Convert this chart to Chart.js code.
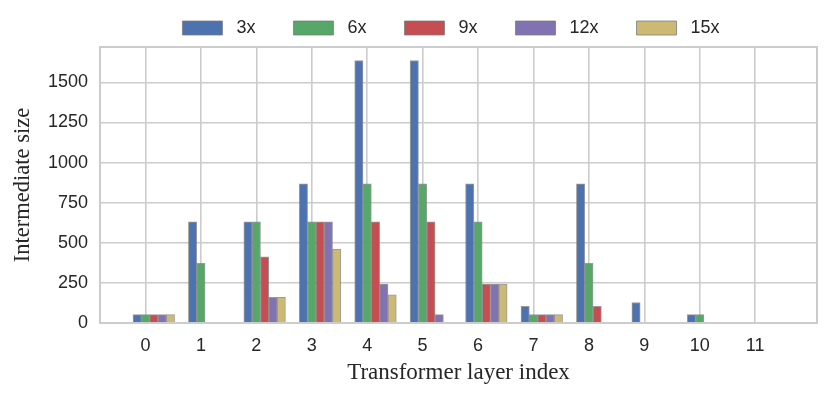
<!DOCTYPE html>
<html>
<head>
<meta charset="utf-8">
<script src="https://cdn.jsdelivr.net/npm/chart.js@4/dist/chart.umd.min.js"></script>
<style>
  html, body { margin: 0; padding: 0; background: #fff; }
  #wrap { width: 831px; height: 399px; }
</style>
</head>
<body>
<div id="wrap"><canvas id="layerChart"></canvas></div>
<script>
// layer index on x, one bar per expansion ratio
const layers = ["0", "1", "2", "3", "4", "5", "6", "7", "8", "9", "10", "11"];
const ratios = ["3x", "6x", "9x", "12x", "15x"];
const size3x  = [52, 630, 630, 868, 1636, 1636, 868, 104, 868, 128, 52, 0];
const size6x  = [52, 372, 630, 630, 868, 868, 630, 52, 372, 0, 52, 0];
const size9x  = [52, 0, 412, 630, 630, 630, 242, 52, 104, 0, 0, 0];
const size12x = [52, 0, 160, 630, 242, 52, 242, 52, 0, 0, 0, 0];
const size15x = [52, 0, 160, 460, 175, 0, 242, 52, 0, 0, 0, 0];
const yTicks = [0, 250, 500, 750, 1000, 1250, 1500];

const colors = ["#4C72B0", "#55A868", "#C44E52", "#8172B2", "#CCB974"];
const allSizes = [size3x, size6x, size9x, size12x, size15x];
const barStep = 0.15;   // bar width in layer units (green bar sits on the tick)
const textColor = "#262626";

const frame = {
  id: "frame",
  afterDatasetsDraw(chart) {
    const { ctx, chartArea: a } = chart;
    ctx.save();
    ctx.strokeStyle = "#cccccc";
    ctx.lineWidth = 2;
    ctx.strokeRect(a.left, a.top, a.right - a.left, a.bottom - a.top);
    ctx.restore();
  }
};

new Chart(document.getElementById("layerChart"), {
  type: "bar",
  data: {
    datasets: allSizes.map((vals, d) => ({
      label: ratios[d],
      data: vals.map((v, i) => ({ x: i + (d - 1) * barStep, y: v })),
      backgroundColor: colors[d],
      borderColor: "rgba(120,120,120,0.75)",
      borderWidth: 1,
      grouped: false,
      categoryPercentage: 1,
      barPercentage: 1
    }))
  },
  options: {
    responsive: true,
    maintainAspectRatio: false,
    animation: false,
    layout: { padding: { top: 11, right: 14, left: 0, bottom: 0 } },
    plugins: {
      tooltip: { enabled: false },
      legend: {
        position: "top",
        fullSize: false,
        labels: {
          boxWidth: 40,
          boxHeight: 14,
          padding: 8,
          color: textColor,
          font: { family: "Liberation Sans", size: 18 },
          generateLabels(chart) {
            const items = Chart.defaults.plugins.legend.labels.generateLabels(chart);
            items.forEach((it, i) => {
              it.text = " " + it.text + (i < items.length - 1 ? "      " : "   ");
            });
            return items;
          }
        }
      }
    },
    scales: {
      x: {
        type: "linear",
        min: -0.82,
        max: 12.115,
        offset: false,
        grid: { color: "#cccccc", lineWidth: 1.6, drawTicks: false, offset: false },
        border: { display: false },
        ticks: {
          padding: 12,
          color: textColor,
          font: { family: "Liberation Sans", size: 18 },
          callback: (v) => layers[v]
        },
        afterBuildTicks(scale) {
          scale.ticks = layers.map((_, i) => ({ value: i }));
        },
        afterFit(scale) { scale.height = 76; },
        title: {
          display: true,
          text: "Transformer layer index",
          color: textColor,
          font: { family: "Liberation Serif", size: 23 },
          padding: { top: 0, bottom: 12 }
        }
      },
      y: {
        min: 0,
        max: 1720,
        grid: { color: "#cccccc", lineWidth: 1.6, drawTicks: false },
        border: { display: false },
        ticks: {
          padding: 12,
          color: textColor,
          font: { family: "Liberation Sans", size: 18 },
          callback: (v) => String(v)
        },
        afterBuildTicks(scale) {
          scale.ticks = yTicks.map(v => ({ value: v }));
        },
        afterFit(scale) { scale.width = 100; },
        title: {
          display: true,
          text: "Intermediate size",
          color: textColor,
          font: { family: "Liberation Serif", size: 22.5 },
          padding: { top: 10, bottom: 0 }
        }
      }
    }
  },
  plugins: [frame]
});
</script>
</body>
</html>
